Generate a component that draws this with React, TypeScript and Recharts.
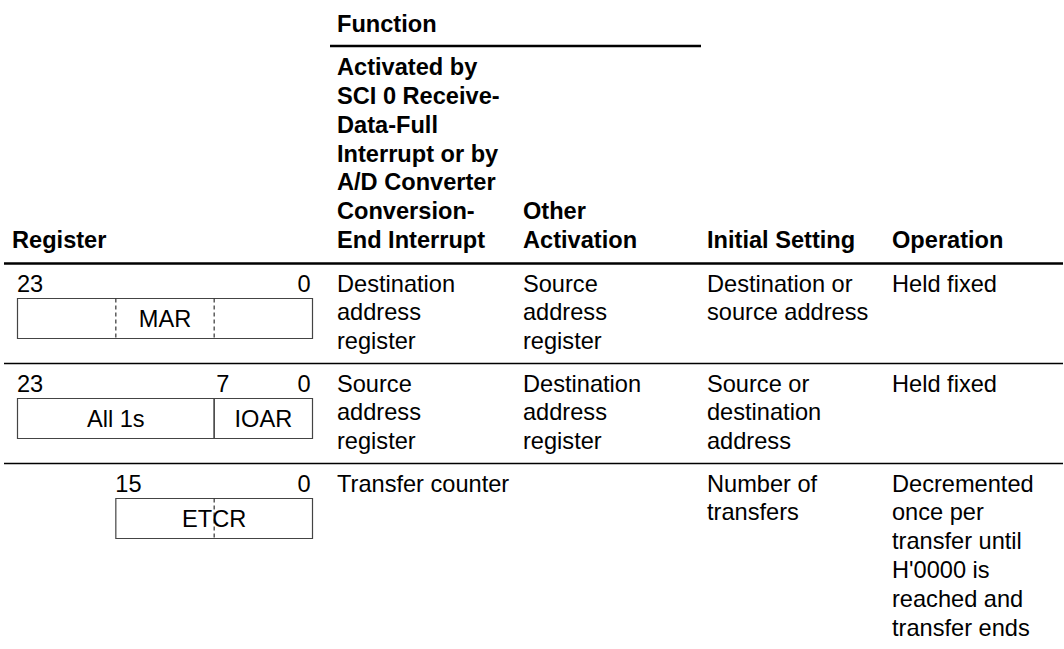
import { ScatterChart, Scatter, XAxis, YAxis, ReferenceLine, ReferenceArea } from 'recharts';

// ---- table content ----
const functionTitle = 'Function';
const headerRegister = ['Register'];
const headerActivated = [
  'Activated by',
  'SCI 0 Receive-',
  'Data-Full',
  'Interrupt or by',
  'A/D Converter',
  'Conversion-',
  'End Interrupt',
];
const headerOther = ['Other', 'Activation'];
const headerInitial = ['Initial Setting'];
const headerOperation = ['Operation'];

const activatedCells = [
  ['Destination', 'address', 'register'],
  ['Source', 'address', 'register'],
  ['Transfer counter'],
];
const otherCells = [
  ['Source', 'address', 'register'],
  ['Destination', 'address', 'register'],
  [],
];
const initialCells = [
  ['Destination or', 'source address'],
  ['Source or', 'destination', 'address'],
  ['Number of', 'transfers'],
];
const operationCells = [
  ['Held fixed'],
  ['Held fixed'],
  ['Decremented', 'once per', 'transfer until', "H'0000 is", 'reached and', 'transfer ends'],
];

// register diagrams: bit numbers shown, fields, dashed byte boundaries
const regBitLabels = [[23, 0], [23, 7, 0], [15, 0]];
const regFields = [
  [{ name: 'MAR', hi: 23, lo: 0 }],
  [{ name: 'All 1s', hi: 23, lo: 8 }, { name: 'IOAR', hi: 7, lo: 0 }],
  [{ name: 'ETCR', hi: 15, lo: 0 }],
];
const regDashed = [[15, 7], [], [7]];

// ---- layout ----
const W = 1064;
const H = 649;
const FONT = '"Liberation Sans", Arial, Helvetica, sans-serif';
const FS = 23.6;
const LINE = 28.8;
const COL_X = { reg: 12, act: 337, other: 523, init: 707, oper: 892 };
const HEADER_BASE = 248;
const FUNCTION_BASE = 32;
const FUNCTION_RULE = { x1: 330, x2: 701, y: 46 };
const ROW_RULES = [263.5, 363.5, 463.5];
const RULE_X = [4, 1063];
const REG_LEFT = 17.5;
const REG_RIGHT = 312.5;
const BIT = (REG_RIGHT - REG_LEFT) / 24;

const bitLeft = (b: number) => REG_LEFT + (23 - b) * BIT;
const bitRight = (b: number) => REG_LEFT + (24 - b) * BIT;

type TextPt = { x: number; y: number; text: string; anchor: 'start' | 'middle' | 'end' };

const headerLines = (lines: string[], x: number): TextPt[] =>
  lines.map((t, i) => ({ x, y: HEADER_BASE - (lines.length - 1 - i) * LINE, text: t, anchor: 'start' }));

const headerPts: TextPt[] = [
  { x: COL_X.act, y: FUNCTION_BASE, text: functionTitle, anchor: 'start' },
  ...headerLines(headerRegister, COL_X.reg),
  ...headerLines(headerActivated, COL_X.act),
  ...headerLines(headerOther, COL_X.other),
  ...headerLines(headerInitial, COL_X.init),
  ...headerLines(headerOperation, COL_X.oper),
];

const cellLines = (cells: string[][], x: number): TextPt[] =>
  cells.flatMap((lines, r) =>
    lines.map((t, i) => ({ x, y: ROW_RULES[r] + 28 + i * LINE, text: t, anchor: 'start' as const }))
  );

const bodyPts: TextPt[] = [
  ...cellLines(activatedCells, COL_X.act),
  ...cellLines(otherCells, COL_X.other),
  ...cellLines(initialCells, COL_X.init),
  ...cellLines(operationCells, COL_X.oper),
];

const regPts: TextPt[] = [];
regBitLabels.forEach((bits, r) => {
  const y = ROW_RULES[r] + 28;
  bits.forEach((b, i) => {
    if (i === 0) regPts.push({ x: bitLeft(b) - 0.5, y, text: String(b), anchor: 'start' });
    else if (i === bits.length - 1) regPts.push({ x: bitRight(b) - 2, y, text: String(b), anchor: 'end' });
    else regPts.push({ x: bitLeft(b) + 2, y, text: String(b), anchor: 'start' });
  });
});
regFields.forEach((fields, r) => {
  const y = ROW_RULES[r] + 55 + FS * 0.36;
  fields.forEach((f) => {
    regPts.push({ x: (bitLeft(f.hi) + bitRight(f.lo)) / 2, y, text: f.name, anchor: 'middle' });
  });
});

const makeText = (bold: boolean) => (props: any) => {
  const { cx, cy, payload } = props;
  return (
    <text
      x={cx}
      y={cy}
      textAnchor={payload.anchor}
      fontFamily={FONT}
      fontSize={FS}
      fontWeight={bold ? 700 : 400}
      fill="#000"
    >
      {payload.text}
    </text>
  );
};

export default function App() {
  return (
    <div style={{ position: 'absolute', left: 0, top: 0, width: W, height: H, background: '#fff' }}>
      <ScatterChart width={W} height={H} margin={{ top: 0, right: 0, bottom: 0, left: 0 }}>
        <XAxis type="number" dataKey="x" domain={[0, W]} allowDataOverflow hide />
        <YAxis type="number" dataKey="y" domain={[0, H]} allowDataOverflow reversed hide />

        <ReferenceLine
          segment={[{ x: FUNCTION_RULE.x1, y: FUNCTION_RULE.y }, { x: FUNCTION_RULE.x2, y: FUNCTION_RULE.y }]}
          stroke="#000"
          strokeWidth={2.5}
          ifOverflow="visible"
        />
        {ROW_RULES.map((y, i) => (
          <ReferenceLine
            key={`rule-${i}`}
            segment={[{ x: RULE_X[0], y }, { x: RULE_X[1], y }]}
            stroke="#000"
            strokeWidth={i === 0 ? 2.5 : 1.4}
            ifOverflow="visible"
          />
        ))}

        {regFields.map((fields, r) =>
          fields.map((f) => (
            <ReferenceArea
              key={`box-${r}-${f.name}`}
              x1={bitLeft(f.hi)}
              x2={bitRight(f.lo)}
              y1={ROW_RULES[r] + 35}
              y2={ROW_RULES[r] + 75}
              fill="none"
              stroke="#444"
              strokeWidth={1.2}
              ifOverflow="visible"
            />
          ))
        )}
        {regDashed.map((bits, r) =>
          bits.map((b) => (
            <ReferenceLine
              key={`dash-${r}-${b}`}
              segment={[{ x: bitLeft(b), y: ROW_RULES[r] + 35 }, { x: bitLeft(b), y: ROW_RULES[r] + 75 }]}
              stroke="#333"
              strokeWidth={1.2}
              strokeDasharray="4 3"
              ifOverflow="visible"
            />
          ))
        )}

        <Scatter data={headerPts} shape={makeText(true)} isAnimationActive={false} />
        <Scatter data={bodyPts} shape={makeText(false)} isAnimationActive={false} />
        <Scatter data={regPts} shape={makeText(false)} isAnimationActive={false} />
      </ScatterChart>
    </div>
  );
}
